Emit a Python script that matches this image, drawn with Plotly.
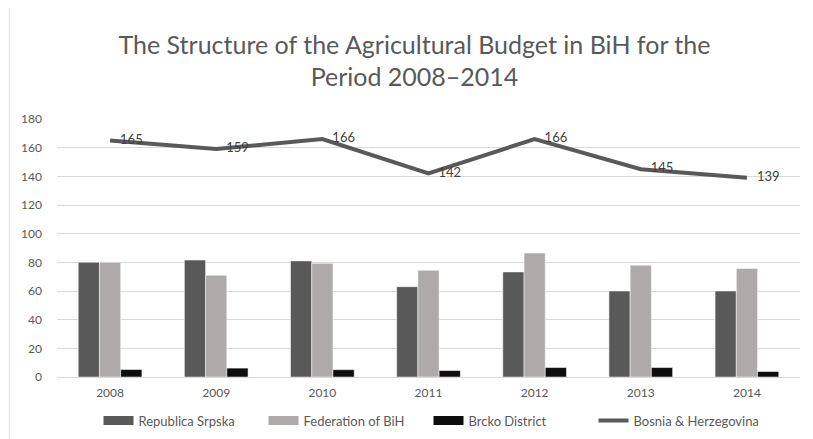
import plotly.graph_objects as go

years = ["2008", "2009", "2010", "2011", "2012", "2013", "2014"]
republika_srpska = [80, 81.6, 81, 63, 73.3, 60, 60]
federation_bih = [80, 71, 79.3, 74.5, 86.5, 78, 75.7]
brcko_district = [5.2, 6.2, 5.1, 4.5, 6.6, 6.6, 3.8]
bih_total = [165, 159, 166, 142, 166, 145, 139]

series_names = ["Republica Srpska", "Federation of BiH", "Brcko District", "Bosnia & Herzegovina"]
bar_colors = ["#595959", "#aeaaaa", "#0d0d0d"]
line_color = "#595959"

font_family = "Lato, 'Open Sans', sans-serif"

fig = go.Figure()
for vals, name, col in zip([republika_srpska, federation_bih, brcko_district], series_names[:3], bar_colors):
    fig.add_trace(go.Bar(x=years, y=vals, name=name, showlegend=False,
                         marker=dict(color=col, line=dict(color="white", width=0.5))))

fig.add_trace(go.Scatter(x=years, y=bih_total, name=series_names[3], showlegend=False,
                         mode="lines+text", line=dict(color=line_color, width=4),
                         text=["   " + str(v) for v in bih_total], textposition="middle right",
                         textfont=dict(size=13, color="#404040", family=font_family)))

# legend entries (wide swatches like the original)
for name, col in zip(series_names[:3], bar_colors):
    fig.add_trace(go.Scatter(x=[None], y=[None], name=name, mode="lines",
                             line=dict(color=col, width=9)))
fig.add_trace(go.Scatter(x=[None], y=[None], name=series_names[3], mode="lines",
                         line=dict(color=line_color, width=4)))

fig.update_layout(
    width=813, height=439,
    paper_bgcolor="white", plot_bgcolor="white",
    font=dict(family=font_family, color="#595959", size=12),
    title=dict(text="The Structure of the Agricultural Budget in BiH for the<br>Period 2008–2014",
               x=0.5, xanchor="center", y=0.896, yanchor="top",
               font=dict(size=25, color="#595959", family=font_family)),
    barmode="group", bargap=0.4, bargroupgap=0,
    margin=dict(l=49, r=21, t=111, b=70, autoexpand=False),
    showlegend=True,
    legend=dict(orientation="h", x=0.5, xanchor="center", yref="container", y=0.06,
                yanchor="middle", font=dict(size=13, color="#595959"), traceorder="normal",
                itemwidth=30, entrywidth=120, entrywidthmode="pixels"),
    xaxis=dict(showgrid=False, showline=True, linecolor="#d9d9d9", ticks="",
               ticklabelstandoff=5, tickfont=dict(size=12, color="#595959")),
    yaxis=dict(range=[0, 180], dtick=20, showgrid=True, gridcolor="#d9d9d9",
               zeroline=False, showline=False, ticks="", ticklabelstandoff=14,
               tickfont=dict(size=12, color="#595959")),
    shapes=[dict(type="line", xref="paper", yref="paper",
                 x0=-0.064, x1=-0.064, y0=-0.3, y1=1.5,
                 line=dict(color="#e5e5e5", width=1))],
)

fig.write_html("out.html")
